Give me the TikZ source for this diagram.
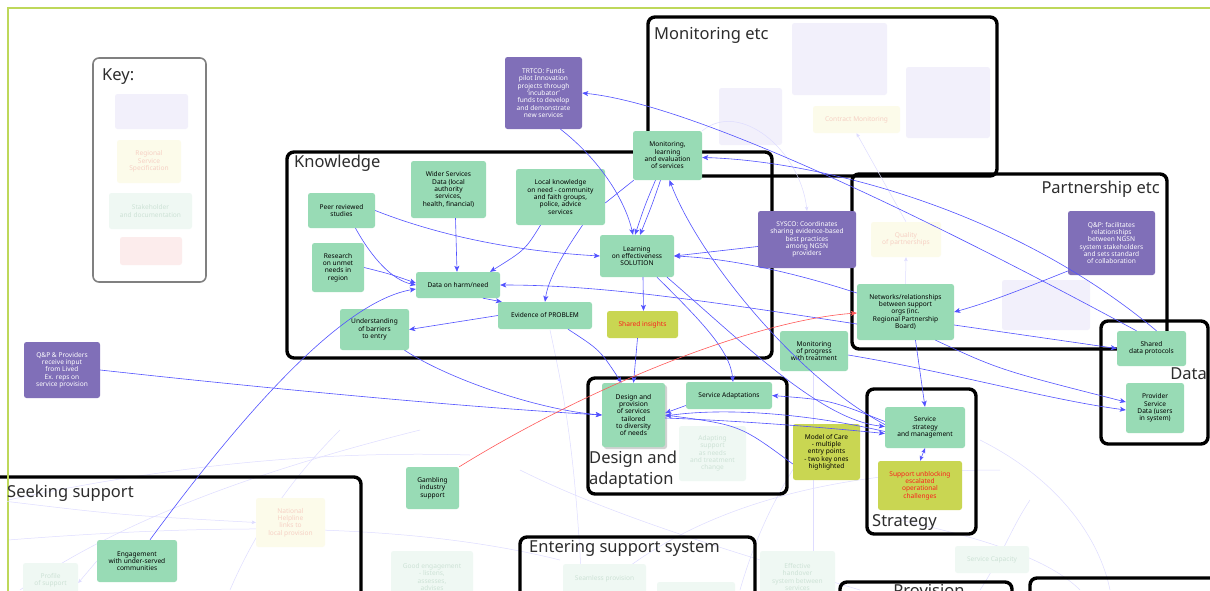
\documentclass[tikz,border=0pt]{standalone}
\usepackage{fontspec}
\setmainfont{Noto Sans}
\usetikzlibrary{arrows.meta,shadows}
\definecolor{ngreen}{RGB}{152,219,181}
\definecolor{npurple}{RGB}{128,111,184}
\definecolor{nyellow}{RGB}{201,214,82}
\definecolor{nred}{RGB}{250,30,30}
\definecolor{eblue}{RGB}{82,82,255}
\definecolor{flav}{RGB}{242,240,251}
\definecolor{fyel}{RGB}{252,251,234}
\definecolor{fgrn}{RGB}{239,248,243}
\definecolor{fpink}{RGB}{252,236,236}
\definecolor{fytext}{RGB}{246,208,196}
\definecolor{fgtext}{RGB}{205,226,214}
\definecolor{fline}{RGB}{222,220,255}
\definecolor{ttlgray}{RGB}{45,45,45}
\definecolor{frame}{RGB}{190,216,90}
\begin{document}
\begin{tikzpicture}[x=1pt,y=-1pt,
  nd/.style={rounded corners=2.5pt, align=center, inner sep=1pt,
    font=\fontsize{6.6}{7.3}\selectfont, text=black},
  gn/.style={nd, fill=ngreen},
  pu/.style={nd, fill=npurple, text=white},
  yg/.style={nd, fill=nyellow, text=nred},
  flv/.style={nd, fill=flav},
  fyl/.style={nd, fill=fyel, text=fytext},
  fgr/.style={nd, fill=fgrn, text=fgtext},
  fpk/.style={nd, fill=fpink},
  grp/.style={draw=black, line width=3.4pt, rounded corners=7pt},
  ttl/.style={font=\fontsize{16.5}{21}\selectfont, text=ttlgray, inner sep=0pt, align=left},
  e/.style={draw=eblue, line width=0.6pt, -{Stealth[length=6pt,width=5pt,inset=1.5pt]}},
  ln/.style={draw=eblue, line width=0.6pt},
  fe/.style={draw=fline, line width=0.5pt, -{Stealth[length=4pt,width=3.5pt,inset=1pt]}},
  re/.style={draw=red!65, line width=0.6pt, -{Stealth[length=6pt,width=5pt,inset=1.5pt]}}
]
\useasboundingbox (0,0) rectangle (1210,590);
\clip (0,0) rectangle (1210,590);
\fill[white] (0,0) rectangle (1210,590);

% faint background connections in the lower half
\draw[fline, line width=0.5pt] (8,500) .. controls (150,470) and (300,450) .. (470,455);
\draw[fline, line width=0.5pt] (20,590) .. controls (120,520) and (260,470) .. (420,430);
\draw[fline, line width=0.5pt] (230,590) .. controls (260,520) and (300,470) .. (340,430);
\draw[fline, line width=0.5pt] (8,540) .. controls (200,525) and (400,520) .. (560,560);
\draw[fline, line width=0.5pt] (550,330) .. controls (565,400) and (575,450) .. (582,590);
\draw[fline, line width=0.5pt] (520,470) .. controls (620,520) and (760,560) .. (860,590);
\draw[fline, line width=0.5pt] (600,590) .. controls (700,500) and (850,470) .. (1000,470);
\draw[fline, line width=0.5pt] (980,440) .. controls (1060,480) and (1100,540) .. (1110,590);
\draw[fline, line width=0.5pt] (900,520) .. controls (990,540) and (1050,560) .. (1080,590);
\draw[fline, line width=0.5pt] (740,590) .. controls (760,520) and (790,470) .. (820,430);
\draw[fline, line width=0.5pt] (980,590) .. controls (1000,560) and (1010,530) .. (1030,500);
\draw[fline, line width=0.5pt] (813,373) -- (813,590);

% key
\draw[draw=black!50, line width=1.6pt, rounded corners=6pt] (93,58) rectangle (206,282);
\node[ttl, anchor=west] (keyttl) at (102,77) {Key:};
\node[flv, minimum width=73pt, minimum height=35pt] (k1) at (151.5,111.5) {};
\node[fyl, minimum width=64pt, minimum height=43pt] (k2) at (149,161.5) {Regional\\Service\\Specification};
\node[fgr, minimum width=83pt, minimum height=36pt] (k3) at (150.5,211) {Stakeholder\\and documentation};
\node[fpk, minimum width=62pt, minimum height=28pt] (k4) at (151,251) {};

% group frames
\draw[grp] (648,17) rectangle (997,176);
\draw[grp] (287,152) rectangle (772,358);
\draw[grp] (852,174) rectangle (1167,349);
\draw[grp] (1101,321) rectangle (1208,444);
\draw[grp] (588,378) rectangle (787,494);
\draw[grp] (867,389) rectangle (976,534);
\draw[grp] (-20,477) rectangle (361,640);
\draw[grp] (520,537) rectangle (755,640);
\draw[grp] (840,582) rectangle (1012,640);
\draw[grp] (1030,578) rectangle (1230,640);

% page frame
\draw[frame, line width=1.5pt] (8,592) -- (8,8) -- (1212,8);

\node[ttl, anchor=west] (tmon) at (654,35) {Monitoring etc};
\node[ttl, anchor=west] (tknow) at (294,163) {Knowledge};
\node[ttl, anchor=east] (tpart) at (1160,189) {Partnership etc};
\node[ttl, anchor=east] (tdata) at (1207,374) {Data};
\node[ttl, anchor=west] (tdes) at (589,470) {Design and\\adaptation};
\node[ttl, anchor=west] (tstrat) at (872,522) {Strategy};
\node[ttl, anchor=west] (tseek) at (7,493) {Seeking support};
\node[ttl, anchor=west] (tent) at (529,548) {Entering support system};
\node[ttl, anchor=north] (tprov) at (929,584) {Provision};

% faint placeholders
\node[flv, minimum width=95pt, minimum height=72pt] (m1) at (839.5,59) {};
\node[flv, minimum width=63pt, minimum height=57pt] (m2) at (750.5,116.5) {};
\node[flv, minimum width=84pt, minimum height=71pt] (m3) at (948,102.5) {};
\node[fyl, minimum width=87pt, minimum height=27pt] (contract) at (856.5,119.5) {Contract Monitoring};
\node[fyl, minimum width=70pt, minimum height=35pt] (qualp) at (906,239.5) {Quality\\of partnerships};
\node[flv, minimum width=88pt, minimum height=50pt] (p1) at (1046,305) {};
\node[fgr, minimum width=67pt, minimum height=55pt] (adapt) at (712.5,453.5) {Adapting\\support\\as needs\\and treatment\\change};
\node[fyl, minimum width=69pt, minimum height=49pt] (natl) at (290.5,522.5) {National\\Helpline\\links to\\local provision};
\node[fgr, minimum width=55pt, minimum height=40pt] (profile) at (50.5,583) {Profile\\of support\\};
\node[fgr, minimum width=82pt, minimum height=52pt] (goodeng) at (432,577) {Good engagement\\- listens,\\assesses,\\advises};
\node[fgr, minimum width=83pt, minimum height=30pt] (seamless) at (604.5,579) {Seamless provision};
\node[fgr, minimum width=78pt, minimum height=20pt] (f9) at (696,592) {};
\node[fgr, minimum width=75pt, minimum height=52pt] (handover) at (797.5,577) {Effective\\handover\\system between\\services};
\node[fgr, minimum width=74pt, minimum height=27pt] (capacity) at (992,559.5) {Service Capacity};

% main nodes
\node[gn, minimum width=69pt, minimum height=49pt] (mon) at (667.5,155.5) {Monitoring,\\learning\\and evaluation\\of services};
\node[pu, minimum width=77pt, minimum height=72pt] (trtco) at (543.5,93) {TRTCO: Funds\\pilot Innovation\\projects through\\‘incubator’\\funds to develop\\and demonstrate\\new services};
\node[gn, minimum width=67pt, minimum height=35pt] (peer) at (341.5,210.5) {Peer reviewed\\studies};
\node[gn, minimum width=75pt, minimum height=57pt] (wider) at (448.5,189.5) {Wider Services\\Data (local\\authority\\services,\\health, financial)};
\node[gn, minimum width=89pt, minimum height=56pt] (local) at (560.5,197) {Local knowledge\\on need - community\\and faith groups,\\police, advice\\services};
\node[gn, minimum width=52pt, minimum height=49pt] (research) at (338,267.5) {Research\\on unmet\\needs in\\region};
\node[gn, minimum width=84pt, minimum height=26pt] (harm) at (458,285) {Data on harm/need};
\node[gn, minimum width=74pt, minimum height=42pt] (learn) at (637,256) {Learning\\on effectiveness\\SOLUTION};
\node[gn, minimum width=94pt, minimum height=27pt] (evid) at (545,315.5) {Evidence of PROBLEM};
\node[gn, minimum width=69pt, minimum height=41pt] (under) at (374.5,329.5) {Understanding\\of barriers\\to entry};
\node[yg, minimum width=71pt, minimum height=27pt] (si) at (642.5,324.5) {Shared insights};
\node[pu, minimum width=98pt, minimum height=57pt] (sysco) at (807,239.5) {SYSCO: Coordinates\\sharing evidence-based\\best practices\\among NGSN\\providers};
\node[pu, minimum width=87pt, minimum height=64pt] (qpf) at (1111.5,243) {Q\&P: facilitates\\relationships\\between NGSN\\system stakeholders\\and sets standard\\of collaboration};
\node[gn, minimum width=97pt, minimum height=56pt] (netw) at (905.5,312) {Networks/relationships\\between support\\orgs (inc.\\Regional Partnership\\Board)};
\node[gn, minimum width=68pt, minimum height=40pt] (monprog) at (814,351) {Monitoring\\of progress\\with treatment};
\node[gn, minimum width=69pt, minimum height=35pt] (sdp) at (1151.5,348.5) {Shared\\data protocols};
\node[gn, minimum width=58pt, minimum height=50pt] (psd) at (1155,408) {Provider\\Service\\Data (users\\in system)};
\node[pu, minimum width=76pt, minimum height=56pt] (qplived) at (62,370) {Q\&P \& Providers\\receive input\\from Lived\\Ex. reps on\\service provision};
\node[gn, minimum width=63pt, minimum height=64pt, font=\fontsize{6.7}{7.3}\selectfont\bfseries,
  drop shadow={opacity=0.35, shadow xshift=2pt, shadow yshift=-2pt}] (design) at (633.5,415) {Design and\\provision\\of services\\tailored\\to diversity\\of needs};
\node[gn, minimum width=86pt, minimum height=27pt] (sadapt) at (729,395.5) {Service Adaptations};
\node[nd, fill=nyellow, minimum width=67pt, minimum height=56pt] (moc) at (826.5,452) {Model of Care\\- multiple\\entry points\\- two key ones\\highlighted};
\node[gn, minimum width=80pt, minimum height=41pt] (sstrat) at (925,427.5) {Service\\strategy\\and management};
\node[yg, minimum width=84pt, minimum height=49pt] (unblock) at (920,485.5) {Support unblocking\\escalated\\operational\\challenges};
\node[gn, minimum width=53pt, minimum height=42pt] (gamb) at (432.5,488) {Gambling\\industry\\support};
\node[gn, minimum width=80pt, minimum height=42pt] (engage) at (137,561) {Engagement\\with under-served\\communities};

% faint links
\draw[fe] (qualp.north) -- (contract.south);
\draw[fe] (mon.north east) .. controls (740,100) and (800,150) .. (sysco.north);
\draw[fe] (netw.north) -- (qualp.south);
\draw[fe] (engage.west) -- (profile.east);
\draw[fe] (tseek.south west) .. controls (120,515) .. (natl.west);

% connections
\draw[e] ([xshift=14pt]peer.south) .. controls (372,258) and (392,280) .. (harm.west);
\draw[e] (peer.east) .. controls (450,240) and (530,252) .. (learn.west);
\draw[e] ([xshift=7pt]wider.south) -- ([xshift=-1pt]harm.north);
\draw[e] ([xshift=-20pt]local.south) .. controls (525,250) .. ([xshift=32pt]harm.north);
\draw[e] ([xshift=22pt]local.south) .. controls (562,255) and (548,280) .. (evid.north);
\draw[e] (research.east) .. controls (390,274) .. ([yshift=2pt]harm.west);
\draw[e] ([xshift=13pt]engage.north) .. controls (260,390) and (350,300) .. ([yshift=-4pt]harm.west);
\draw[e] ([xshift=25pt]harm.south) -- ([xshift=4pt]evid.north west);
\draw[e] (evid.west) -- (under.east);
\draw[e] ([yshift=-12pt]netw.west) .. controls (700,300) and (600,285) .. (harm.east);
\draw[e] ([yshift=19pt]netw.west) .. controls (780,268) and (720,258) .. (learn.east);
\draw[e] ([yshift=-7pt]sysco.west) -- (learn.east);
\draw[e] ([xshift=17pt]trtco.south) .. controls (600,160) and (625,200) .. ([xshift=-4pt]learn.north);
\draw[e] ([xshift=-12pt]mon.south) .. controls (645,205) .. ([xshift=-2pt]learn.north);
\draw[e] ([xshift=-7pt]mon.south) .. controls (652,205) .. ([xshift=3pt]learn.north);
\draw[ln] ([yshift=-6pt]local.east) -- ([xshift=1pt]mon.south west);
\draw[e] ([xshift=6pt]learn.south) -- ([xshift=1pt]si.north);
\draw[e] ([xshift=-5pt]si.south) -- ([xshift=-0pt]design.north);
\draw[e] ([xshift=23pt]evid.south) .. controls (600,350) .. ([xshift=-12pt]design.north);
\draw[e] ([xshift=30pt]under.south) .. controls (450,380) and (540,410) .. (design.west);
\draw[e] (qplived.east) .. controls (300,392) and (480,408) .. (design.west);
\draw[e] ([yshift=-10pt]sadapt.west) -- ([yshift=2pt]design.east);
\draw[e] ([yshift=-12pt]moc.west) .. controls (740,425) .. (design.east);
\draw[e] ([yshift=-4pt]sstrat.west) .. controls (800,412) and (720,408) .. ([yshift=-1pt]design.east);
\draw[e] ([yshift=-3pt]design.east) .. controls (720,420) and (800,425) .. ([yshift=-6pt]sstrat.west);
\draw[e] ([yshift=6pt]sstrat.west) .. controls (830,400) .. (sadapt.east);
\draw[e] ([xshift=20pt]learn.south) .. controls (700,320) and (730,350) .. ([xshift=4pt]sadapt.north);
\draw[e] ([xshift=30pt]learn.south) .. controls (740,340) and (820,420) .. ([yshift=1pt]sstrat.west);
\draw[e] ([yshift=3pt]sstrat.west) .. controls (800,380) and (700,260) .. ([xshift=2pt]mon.south);
\draw[e] ([xshift=10pt]netw.south) -- (sstrat.north);
\draw[{Stealth[length=5pt,width=4pt,inset=1.5pt]}-{Stealth[length=5pt,width=4pt,inset=1.5pt]}, draw=eblue, line width=0.6pt] (sstrat.south) -- (unblock.north);
\draw[e] ([yshift=-13pt]netw.east) -- (sdp.west);
\draw[e] ([xshift=30pt]netw.south) .. controls (1000,370) .. ([yshift=6pt]psd.west);
\draw[e] ([yshift=-4pt]monprog.east) .. controls (950,372) and (1050,400) .. ([yshift=-2pt]psd.west);
\draw[e] ([yshift=-28pt]qpf.west) .. controls (1020,290) and (990,302) .. (netw.east);
\draw[e] ([xshift=-15pt]sdp.north) .. controls (950,230) and (700,105) .. (trtco.east);
\draw[e] ([xshift=5pt]sdp.north) .. controls (1000,200) and (800,160) .. ([yshift=-2pt]mon.east);
\draw[re] (gamb.north east) .. controls (600,380) and (760,320) .. ([yshift=-1pt]netw.west);
\end{tikzpicture}
\end{document}
